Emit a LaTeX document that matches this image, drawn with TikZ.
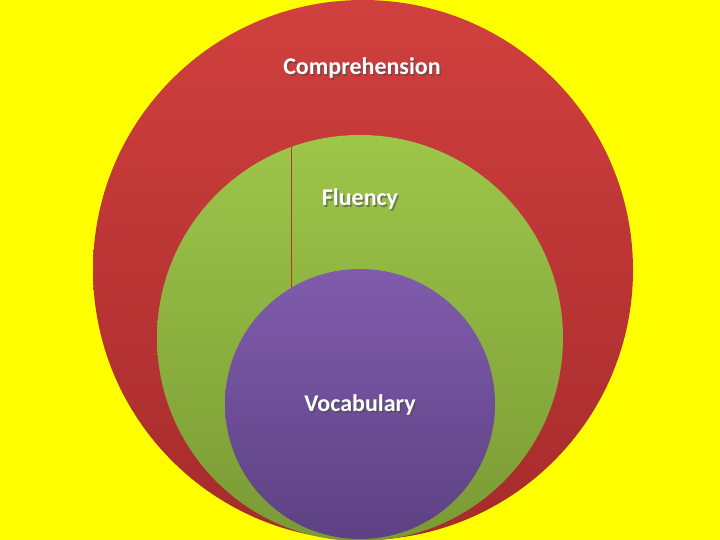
\documentclass[tikz,border=0pt]{standalone}
\usepackage{fontspec}
\setmainfont{Carlito}
\definecolor{bgyellow}{HTML}{FFFF00}
\definecolor{redtop}{HTML}{D0403E}
\definecolor{redbot}{HTML}{A62B2B}
\definecolor{greentop}{HTML}{9DC64A}
\definecolor{greenbot}{HTML}{7A9A34}
\definecolor{purptop}{HTML}{7F5CAC}
\definecolor{purpbot}{HTML}{5D4183}
\definecolor{lineBrown}{HTML}{B83A1E}
\begin{document}
\begin{tikzpicture}[x=1pt,y=-1pt,
  lbl/.style={font=\fontsize{24}{28}\selectfont\bfseries, text=white, inner sep=0pt},
  shd/.style={font=\fontsize{24}{28}\selectfont\bfseries, text=black!70, opacity=0.6, inner sep=0pt}]
\fill[bgyellow] (0,0) rectangle (720,540);
\useasboundingbox (0,0) rectangle (720,540);
\shade[top color=redtop, bottom color=redbot] (363,270) circle (270);
\shade[top color=greentop, bottom color=greenbot] (360,338) circle (203);
\coordinate (lt) at (291.5,146);
\coordinate (lb) at (291.5,288);
\draw[lineBrown, line width=1.2pt] (lt) -- (lb);
\shade[top color=purptop, bottom color=purpbot] (360,404) circle (135);
\node[shd] (s1) at (363.5,69.5) {Comprehension};
\node[lbl] (t1) at (362,68) {Comprehension};
\node[shd] (s2) at (361.5,200.5) {Fluency};
\node[lbl] (t2) at (360,199) {Fluency};
\node[shd] (s3) at (361.5,406.5) {Vocabulary};
\node[lbl] (t3) at (360,405) {Vocabulary};
\end{tikzpicture}
\end{document}
